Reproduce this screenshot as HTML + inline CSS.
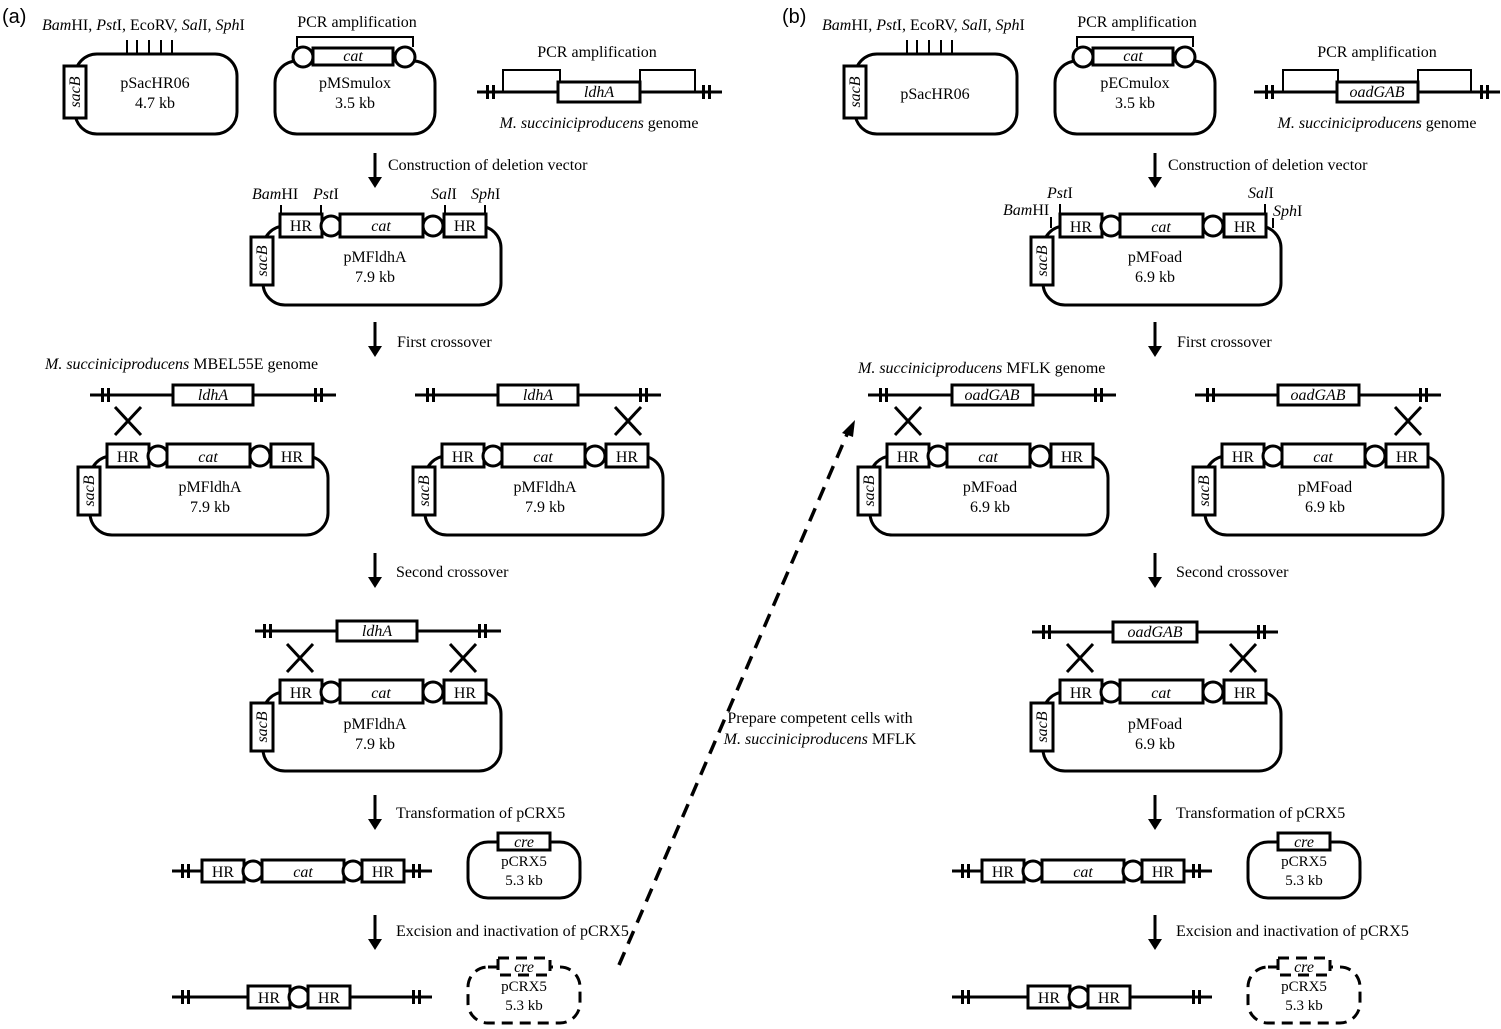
<!DOCTYPE html>
<html><head><meta charset="utf-8">
<style>
html,body{margin:0;padding:0;background:#fff;}
svg{display:block;}
text{font-family:"Liberation Serif",serif;font-size:16px;fill:#000;}
.i{font-style:italic;}
.s{font-family:"Liberation Sans",sans-serif;font-size:20px;}
.c{text-anchor:middle;}
</style></head>
<body>
<svg width="1501" height="1029" viewBox="0 0 1501 1029" xmlns="http://www.w3.org/2000/svg">
<defs>
  <g id="cas">
    <rect x="0" y="0" width="238" height="79" rx="22" fill="none" stroke="#000" stroke-width="3"/>
    <rect x="17" y="-12" width="42" height="23" fill="#fff" stroke="#000" stroke-width="3"/>
    <circle cx="68" cy="0" r="10" fill="#fff" stroke="#000" stroke-width="3"/>
    <rect x="77" y="-12" width="83" height="23" fill="#fff" stroke="#000" stroke-width="3"/>
    <circle cx="170" cy="0" r="10" fill="#fff" stroke="#000" stroke-width="3"/>
    <rect x="181" y="-12" width="42" height="23" fill="#fff" stroke="#000" stroke-width="3"/>
    <rect x="-12" y="11" width="22" height="48" fill="#fff" stroke="#000" stroke-width="3"/>
  </g>
  <g id="tk">
    <rect x="-5" y="-7" width="3" height="14" fill="#000"/>
    <rect x="1" y="-7" width="3" height="14" fill="#000"/>
  </g>
  <g id="x">
    <line x1="-13" y1="-14" x2="13" y2="14" stroke="#000" stroke-width="3"/>
    <line x1="13" y1="-14" x2="-13" y2="14" stroke="#000" stroke-width="3"/>
  </g>
  <g id="ar">
    <line x1="0" y1="0" x2="0" y2="26" stroke="#000" stroke-width="3"/>
    <polygon points="-7,24 7,24 0,35" fill="#000"/>
  </g>
</defs>

<!-- ================= PANEL A ================= -->
<text x="2" y="23" class="s">(a)</text>
<text x="42" y="30"><tspan class="i">Bam</tspan>HI, <tspan class="i">Pst</tspan>I, EcoRV, <tspan class="i">Sal</tspan>I, <tspan class="i">Sph</tspan>I</text>
<g stroke="#000" stroke-width="2">
  <line x1="127" y1="40" x2="127" y2="54"/><line x1="137" y1="40" x2="137" y2="54"/><line x1="149" y1="40" x2="149" y2="54"/><line x1="161" y1="40" x2="161" y2="54"/><line x1="172" y1="40" x2="172" y2="54"/>
</g>
<rect x="75" y="54" width="162" height="80" rx="22" fill="none" stroke="#000" stroke-width="3"/>
<rect x="64" y="66" width="22" height="52" fill="#fff" stroke="#000" stroke-width="3"/>
<text transform="translate(80,92) rotate(-90)" class="i c">sacB</text>
<text x="155" y="88" class="c">pSacHR06</text>
<text x="155" y="108" class="c">4.7 kb</text>

<text x="357" y="27" class="c">PCR amplification</text>
<polyline points="297,47 297,37 413,37 413,47" fill="none" stroke="#000" stroke-width="2"/>
<rect x="275" y="61" width="160" height="73" rx="22" fill="none" stroke="#000" stroke-width="3"/>
<circle cx="303" cy="57" r="10" fill="#fff" stroke="#000" stroke-width="3"/>
<circle cx="405" cy="57" r="10" fill="#fff" stroke="#000" stroke-width="3"/>
<rect x="313" y="48" width="80" height="17" fill="#fff" stroke="#000" stroke-width="3"/>
<text x="353" y="61" class="i c">cat</text>
<text x="355" y="88" class="c">pMSmulox</text>
<text x="355" y="108" class="c">3.5 kb</text>

<text x="597" y="57" class="c">PCR amplification</text>
<line x1="477" y1="92" x2="722" y2="92" stroke="#000" stroke-width="3"/>
<use href="#tk" x="491" y="92"/><use href="#tk" x="707" y="92"/>
<polyline points="503,92 503,70 560,70 560,82" fill="none" stroke="#000" stroke-width="2"/>
<polyline points="640,82 640,70 695,70 695,92" fill="none" stroke="#000" stroke-width="2"/>
<rect x="558" y="82" width="82" height="20" fill="#fff" stroke="#000" stroke-width="3"/>
<text x="599" y="97" class="i c">ldhA</text>
<text x="599" y="128" class="c"><tspan class="i">M. succiniciproducens</tspan> genome</text>

<use href="#ar" x="375" y="153"/>
<text x="388" y="170">Construction of deletion vector</text>

<text x="252" y="199"><tspan class="i">Bam</tspan>HI</text>
<text x="313" y="199"><tspan class="i">Pst</tspan>I</text>
<text x="431" y="199"><tspan class="i">Sal</tspan>I</text>
<text x="471" y="199"><tspan class="i">Sph</tspan>I</text>
<g stroke="#000" stroke-width="2">
  <line x1="281" y1="205" x2="281" y2="215"/><line x1="321" y1="205" x2="321" y2="215"/>
  <line x1="445" y1="205" x2="445" y2="215"/><line x1="485" y1="205" x2="485" y2="215"/>
</g>
<g transform="translate(263,226)"><use href="#cas"/>
  <text x="38" y="5" class="c">HR</text><text x="118" y="5" class="i c">cat</text><text x="202" y="5" class="c">HR</text>
  <text transform="translate(4,35) rotate(-90)" class="i c">sacB</text>
  <text x="112" y="36" class="c">pMFldhA</text><text x="112" y="56" class="c">7.9 kb</text></g>

<use href="#ar" x="375" y="322"/>
<text x="397" y="347">First crossover</text>
<text x="45" y="369"><tspan class="i">M. succiniciproducens</tspan> MBEL55E genome</text>

<line x1="90" y1="395" x2="336" y2="395" stroke="#000" stroke-width="3"/>
<use href="#tk" x="106" y="395"/><use href="#tk" x="319" y="395"/>
<rect x="173" y="385" width="80" height="20" fill="#fff" stroke="#000" stroke-width="3"/>
<text x="213" y="400" class="i c">ldhA</text>
<use href="#x" x="128" y="421"/>
<g transform="translate(90,456)"><use href="#cas"/>
  <text x="38" y="6" class="c">HR</text><text x="118" y="6" class="i c">cat</text><text x="202" y="6" class="c">HR</text>
  <text transform="translate(4,35) rotate(-90)" class="i c">sacB</text>
  <text x="120" y="36" class="c">pMFldhA</text><text x="120" y="56" class="c">7.9 kb</text></g>

<line x1="415" y1="395" x2="661" y2="395" stroke="#000" stroke-width="3"/>
<use href="#tk" x="431" y="395"/><use href="#tk" x="644" y="395"/>
<rect x="498" y="385" width="80" height="20" fill="#fff" stroke="#000" stroke-width="3"/>
<text x="538" y="400" class="i c">ldhA</text>
<use href="#x" x="628" y="421"/>
<g transform="translate(425,456)"><use href="#cas"/>
  <text x="38" y="6" class="c">HR</text><text x="118" y="6" class="i c">cat</text><text x="202" y="6" class="c">HR</text>
  <text transform="translate(4,35) rotate(-90)" class="i c">sacB</text>
  <text x="120" y="36" class="c">pMFldhA</text><text x="120" y="56" class="c">7.9 kb</text></g>

<use href="#ar" x="375" y="553"/>
<text x="396" y="577">Second crossover</text>

<line x1="255" y1="631" x2="501" y2="631" stroke="#000" stroke-width="3"/>
<use href="#tk" x="268" y="631"/><use href="#tk" x="483" y="631"/>
<rect x="337" y="621" width="80" height="20" fill="#fff" stroke="#000" stroke-width="3"/>
<text x="377" y="636" class="i c">ldhA</text>
<use href="#x" x="300" y="658"/><use href="#x" x="463" y="658"/>
<g transform="translate(263,692)"><use href="#cas"/>
  <text x="38" y="6" class="c">HR</text><text x="118" y="6" class="i c">cat</text><text x="202" y="6" class="c">HR</text>
  <text transform="translate(4,35) rotate(-90)" class="i c">sacB</text>
  <text x="112" y="37" class="c">pMFldhA</text><text x="112" y="57" class="c">7.9 kb</text></g>

<use href="#ar" x="375" y="795"/>
<text x="396" y="818">Transformation of pCRX5</text>

<line x1="172" y1="871" x2="432" y2="871" stroke="#000" stroke-width="3"/>
<use href="#tk" x="186" y="871"/><use href="#tk" x="417" y="871"/>
<rect x="202" y="860" width="42" height="22" fill="#fff" stroke="#000" stroke-width="3"/>
<circle cx="253" cy="871" r="10" fill="#fff" stroke="#000" stroke-width="3"/>
<rect x="262" y="860" width="82" height="22" fill="#fff" stroke="#000" stroke-width="3"/>
<circle cx="353" cy="871" r="10" fill="#fff" stroke="#000" stroke-width="3"/>
<rect x="362" y="860" width="42" height="22" fill="#fff" stroke="#000" stroke-width="3"/>
<text x="223" y="877" class="c">HR</text><text x="303" y="877" class="i c">cat</text><text x="383" y="877" class="c">HR</text>

<rect x="468" y="842" width="112" height="56" rx="20" fill="none" stroke="#000" stroke-width="3"/>
<rect x="498" y="833" width="52" height="17" fill="#fff" stroke="#000" stroke-width="3"/>
<text x="524" y="847" class="i c">cre</text>
<text x="524" y="866" class="c" style="font-size:15px">pCRX5</text>
<text x="524" y="885" class="c" style="font-size:15px">5.3 kb</text>

<use href="#ar" x="375" y="915"/>
<text x="396" y="936">Excision and inactivation of pCRX5</text>

<line x1="172" y1="997" x2="432" y2="997" stroke="#000" stroke-width="3"/>
<use href="#tk" x="186" y="997"/><use href="#tk" x="417" y="997"/>
<rect x="248" y="986" width="42" height="22" fill="#fff" stroke="#000" stroke-width="3"/>
<circle cx="299" cy="997" r="10" fill="#fff" stroke="#000" stroke-width="3"/>
<rect x="308" y="986" width="42" height="22" fill="#fff" stroke="#000" stroke-width="3"/>
<text x="269" y="1003" class="c">HR</text><text x="329" y="1003" class="c">HR</text>

<rect x="468" y="967" width="112" height="56" rx="20" fill="none" stroke="#000" stroke-width="3" stroke-dasharray="11 7"/>
<rect x="498" y="958" width="52" height="17" fill="#fff" stroke="#000" stroke-width="3" stroke-dasharray="11 7"/>
<text x="524" y="972" class="i c">cre</text>
<text x="524" y="991" class="c" style="font-size:15px">pCRX5</text>
<text x="524" y="1010" class="c" style="font-size:15px">5.3 kb</text>

<!-- dashed transfer arrow -->
<line x1="619" y1="965" x2="848" y2="432" stroke="#000" stroke-width="3.5" stroke-dasharray="14 9"/>
<polygon points="855,420 842,433 853,437" fill="#000"/>
<text x="820" y="723" class="c">Prepare competent cells with</text>
<text x="820" y="744" class="c"><tspan class="i">M. succiniciproducens</tspan> MFLK</text>

<!-- ================= PANEL B ================= -->
<text x="782" y="23" class="s">(b)</text>
<text x="822" y="30"><tspan class="i">Bam</tspan>HI, <tspan class="i">Pst</tspan>I, EcoRV, <tspan class="i">Sal</tspan>I, <tspan class="i">Sph</tspan>I</text>
<g stroke="#000" stroke-width="2">
  <line x1="907" y1="40" x2="907" y2="54"/><line x1="917" y1="40" x2="917" y2="54"/><line x1="929" y1="40" x2="929" y2="54"/><line x1="941" y1="40" x2="941" y2="54"/><line x1="952" y1="40" x2="952" y2="54"/>
</g>
<rect x="855" y="54" width="162" height="80" rx="22" fill="none" stroke="#000" stroke-width="3"/>
<rect x="844" y="66" width="22" height="52" fill="#fff" stroke="#000" stroke-width="3"/>
<text transform="translate(860,92) rotate(-90)" class="i c">sacB</text>
<text x="935" y="99" class="c">pSacHR06</text>

<text x="1137" y="27" class="c">PCR amplification</text>
<polyline points="1077,47 1077,37 1193,37 1193,47" fill="none" stroke="#000" stroke-width="2"/>
<rect x="1055" y="61" width="160" height="73" rx="22" fill="none" stroke="#000" stroke-width="3"/>
<circle cx="1083" cy="57" r="10" fill="#fff" stroke="#000" stroke-width="3"/>
<circle cx="1185" cy="57" r="10" fill="#fff" stroke="#000" stroke-width="3"/>
<rect x="1093" y="48" width="80" height="17" fill="#fff" stroke="#000" stroke-width="3"/>
<text x="1133" y="61" class="i c">cat</text>
<text x="1135" y="88" class="c">pECmulox</text>
<text x="1135" y="108" class="c">3.5 kb</text>

<text x="1377" y="57" class="c">PCR amplification</text>
<line x1="1254" y1="92" x2="1500" y2="92" stroke="#000" stroke-width="3"/>
<use href="#tk" x="1270" y="92"/><use href="#tk" x="1485" y="92"/>
<polyline points="1283,92 1283,70 1338,70 1338,82" fill="none" stroke="#000" stroke-width="2"/>
<polyline points="1418,82 1418,70 1471,70 1471,92" fill="none" stroke="#000" stroke-width="2"/>
<rect x="1337" y="82" width="81" height="20" fill="#fff" stroke="#000" stroke-width="3"/>
<text x="1377" y="97" class="i c">oadGAB</text>
<text x="1377" y="128" class="c"><tspan class="i">M. succiniciproducens</tspan> genome</text>

<use href="#ar" x="1155" y="153"/>
<text x="1168" y="170">Construction of deletion vector</text>

<text x="1047" y="198"><tspan class="i">Pst</tspan>I</text>
<text x="1003" y="215"><tspan class="i">Bam</tspan>HI</text>
<text x="1248" y="198"><tspan class="i">Sal</tspan>I</text>
<text x="1273" y="216"><tspan class="i">Sph</tspan>I</text>
<g stroke="#000" stroke-width="2">
  <line x1="1060" y1="204" x2="1060" y2="215"/><line x1="1051" y1="217" x2="1051" y2="228"/>
  <line x1="1265" y1="204" x2="1265" y2="215"/><line x1="1273" y1="218" x2="1273" y2="228"/>
</g>
<g transform="translate(1043,226)"><use href="#cas"/>
  <text x="38" y="6" class="c">HR</text><text x="118" y="6" class="i c">cat</text><text x="202" y="6" class="c">HR</text>
  <text transform="translate(4,35) rotate(-90)" class="i c">sacB</text>
  <text x="112" y="36" class="c">pMFoad</text><text x="112" y="56" class="c">6.9 kb</text></g>

<use href="#ar" x="1155" y="322"/>
<text x="1177" y="347">First crossover</text>
<text x="858" y="373"><tspan class="i">M. succiniciproducens</tspan> MFLK genome</text>

<line x1="868" y1="395" x2="1116" y2="395" stroke="#000" stroke-width="3"/>
<use href="#tk" x="884" y="395"/><use href="#tk" x="1099" y="395"/>
<rect x="952" y="385" width="81" height="20" fill="#fff" stroke="#000" stroke-width="3"/>
<text x="992" y="400" class="i c">oadGAB</text>
<use href="#x" x="908" y="421"/>
<g transform="translate(870,456)"><use href="#cas"/>
  <text x="38" y="6" class="c">HR</text><text x="118" y="6" class="i c">cat</text><text x="202" y="6" class="c">HR</text>
  <text transform="translate(4,35) rotate(-90)" class="i c">sacB</text>
  <text x="120" y="36" class="c">pMFoad</text><text x="120" y="56" class="c">6.9 kb</text></g>

<line x1="1195" y1="395" x2="1441" y2="395" stroke="#000" stroke-width="3"/>
<use href="#tk" x="1211" y="395"/><use href="#tk" x="1424" y="395"/>
<rect x="1278" y="385" width="81" height="20" fill="#fff" stroke="#000" stroke-width="3"/>
<text x="1318" y="400" class="i c">oadGAB</text>
<use href="#x" x="1408" y="421"/>
<g transform="translate(1205,456)"><use href="#cas"/>
  <text x="38" y="6" class="c">HR</text><text x="118" y="6" class="i c">cat</text><text x="202" y="6" class="c">HR</text>
  <text transform="translate(4,35) rotate(-90)" class="i c">sacB</text>
  <text x="120" y="36" class="c">pMFoad</text><text x="120" y="56" class="c">6.9 kb</text></g>

<use href="#ar" x="1155" y="553"/>
<text x="1176" y="577">Second crossover</text>

<line x1="1032" y1="632" x2="1278" y2="632" stroke="#000" stroke-width="3"/>
<use href="#tk" x="1047" y="632"/><use href="#tk" x="1262" y="632"/>
<rect x="1113" y="622" width="84" height="20" fill="#fff" stroke="#000" stroke-width="3"/>
<text x="1155" y="637" class="i c">oadGAB</text>
<use href="#x" x="1080" y="658"/><use href="#x" x="1243" y="658"/>
<g transform="translate(1043,692)"><use href="#cas"/>
  <text x="38" y="6" class="c">HR</text><text x="118" y="6" class="i c">cat</text><text x="202" y="6" class="c">HR</text>
  <text transform="translate(4,35) rotate(-90)" class="i c">sacB</text>
  <text x="112" y="37" class="c">pMFoad</text><text x="112" y="57" class="c">6.9 kb</text></g>

<use href="#ar" x="1155" y="795"/>
<text x="1176" y="818">Transformation of pCRX5</text>

<line x1="952" y1="871" x2="1212" y2="871" stroke="#000" stroke-width="3"/>
<use href="#tk" x="966" y="871"/><use href="#tk" x="1197" y="871"/>
<rect x="982" y="860" width="42" height="22" fill="#fff" stroke="#000" stroke-width="3"/>
<circle cx="1033" cy="871" r="10" fill="#fff" stroke="#000" stroke-width="3"/>
<rect x="1042" y="860" width="82" height="22" fill="#fff" stroke="#000" stroke-width="3"/>
<circle cx="1133" cy="871" r="10" fill="#fff" stroke="#000" stroke-width="3"/>
<rect x="1142" y="860" width="42" height="22" fill="#fff" stroke="#000" stroke-width="3"/>
<text x="1003" y="877" class="c">HR</text><text x="1083" y="877" class="i c">cat</text><text x="1163" y="877" class="c">HR</text>

<rect x="1248" y="842" width="112" height="56" rx="20" fill="none" stroke="#000" stroke-width="3"/>
<rect x="1278" y="833" width="52" height="17" fill="#fff" stroke="#000" stroke-width="3"/>
<text x="1304" y="847" class="i c">cre</text>
<text x="1304" y="866" class="c" style="font-size:15px">pCRX5</text>
<text x="1304" y="885" class="c" style="font-size:15px">5.3 kb</text>

<use href="#ar" x="1155" y="915"/>
<text x="1176" y="936">Excision and inactivation of pCRX5</text>

<line x1="952" y1="997" x2="1212" y2="997" stroke="#000" stroke-width="3"/>
<use href="#tk" x="966" y="997"/><use href="#tk" x="1197" y="997"/>
<rect x="1028" y="986" width="42" height="22" fill="#fff" stroke="#000" stroke-width="3"/>
<circle cx="1079" cy="997" r="10" fill="#fff" stroke="#000" stroke-width="3"/>
<rect x="1088" y="986" width="42" height="22" fill="#fff" stroke="#000" stroke-width="3"/>
<text x="1049" y="1003" class="c">HR</text><text x="1109" y="1003" class="c">HR</text>

<rect x="1248" y="967" width="112" height="56" rx="20" fill="none" stroke="#000" stroke-width="3" stroke-dasharray="11 7"/>
<rect x="1278" y="958" width="52" height="17" fill="#fff" stroke="#000" stroke-width="3" stroke-dasharray="11 7"/>
<text x="1304" y="972" class="i c">cre</text>
<text x="1304" y="991" class="c" style="font-size:15px">pCRX5</text>
<text x="1304" y="1010" class="c" style="font-size:15px">5.3 kb</text>
</svg>
</body></html>
